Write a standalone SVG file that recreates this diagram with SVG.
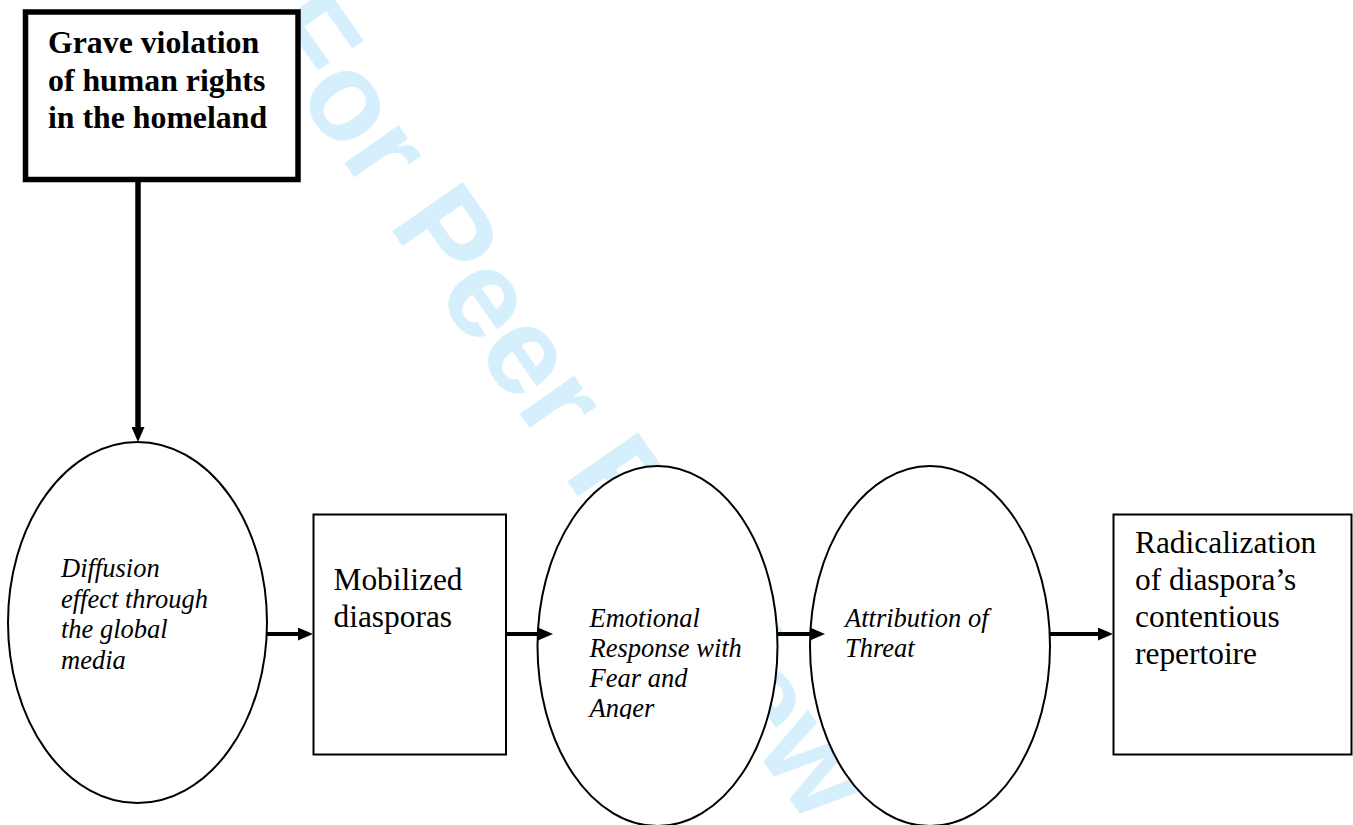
<svg xmlns="http://www.w3.org/2000/svg" width="1353" height="825" viewBox="0 0 1353 825">
  <style>
    .wm { font-family: "Liberation Sans", Arial, sans-serif; font-weight: bold; font-size: 125px; fill: #d5effc; }
    .node { fill: #ffffff; stroke: #000000; stroke-width: 2; }
    .thick { fill: #ffffff; stroke: #000000; stroke-width: 5.5; }
    .bold { font-family: "Liberation Serif", "Times New Roman", serif; font-weight: bold; font-size: 31.8px; fill: #000; }
    .reg { font-family: "Liberation Serif", "Times New Roman", serif; font-size: 31.4px; fill: #000; }
    .ital { font-family: "Liberation Serif", "Times New Roman", serif; font-style: italic; font-size: 26.5px; fill: #000; }
    .conn { stroke: #000000; stroke-width: 4; fill: none; marker-end: url(#arrow); }
  </style>
  <defs>
    <marker id="arrow" viewBox="0 0 15 13" refX="2" refY="6.5" markerWidth="15" markerHeight="13" markerUnits="userSpaceOnUse" orient="auto">
      <path d="M0,0 L15,6.5 L0,13 Z" fill="#000000"/>
    </marker>
    <clipPath id="clipAnger">
      <rect x="540" y="590" width="235" height="129"/>
    </clipPath>
  </defs>
  <rect width="1353" height="825" fill="#ffffff"/>

  <text class="wm" x="252" y="31" transform="rotate(55 252 31)">For Peer Review</text>

  <g id="node-violation">
    <rect class="thick" x="25.5" y="12" width="272.5" height="167.5"/>
    <text class="bold" x="48" y="53">Grave violation</text>
    <text class="bold" x="48" y="90.5">of human rights</text>
    <text class="bold" x="48" y="128">in the homeland</text>
  </g>

  <g id="node-diffusion">
    <ellipse class="node" cx="137.5" cy="622.5" rx="129.5" ry="180.5"/>
    <text class="ital" x="61" y="577">Diffusion</text>
    <text class="ital" x="61" y="607.5">effect through</text>
    <text class="ital" x="61" y="638">the global</text>
    <text class="ital" x="61" y="668.5">media</text>
  </g>

  <g id="node-mobilized">
    <rect class="node" x="313.5" y="514.5" width="192.5" height="240"/>
    <text class="reg" x="333.5" y="590">Mobilized</text>
    <text class="reg" x="333.5" y="626.7">diasporas</text>
  </g>

  <g id="node-emotional">
    <ellipse class="node" cx="657.5" cy="646" rx="120" ry="180"/>
    <g clip-path="url(#clipAnger)">
      <text class="ital" x="589.5" y="626.7">Emotional</text>
      <text class="ital" x="589.5" y="656.7">Response with</text>
      <text class="ital" x="589.5" y="686.8">Fear and</text>
      <text class="ital" x="589.5" y="717">Anger</text>
    </g>
  </g>

  <g id="node-attribution">
    <ellipse class="node" cx="930" cy="646" rx="120" ry="180"/>
    <text class="ital" x="845" y="626.7">Attribution of</text>
    <text class="ital" x="845" y="656.7">Threat</text>
  </g>

  <g id="node-radicalization">
    <rect class="node" x="1113.5" y="514.5" width="238" height="240"/>
    <text class="reg" x="1135" y="553">Radicalization</text>
    <text class="reg" x="1135" y="590">of diaspora’s</text>
    <text class="reg" x="1135" y="627">contentious</text>
    <text class="reg" x="1135" y="663.5">repertoire</text>
  </g>

  <g id="connectors">
    <line class="conn" x1="138" y1="182" x2="138" y2="429" style="stroke-width:5.5"/>
    <line class="conn" x1="267" y1="634" x2="300" y2="634"/>
    <line class="conn" x1="506" y1="634" x2="540" y2="634"/>
    <line class="conn" x1="778" y1="634" x2="812" y2="634"/>
    <line class="conn" x1="1050" y1="634" x2="1100" y2="634"/>
  </g>
</svg>
